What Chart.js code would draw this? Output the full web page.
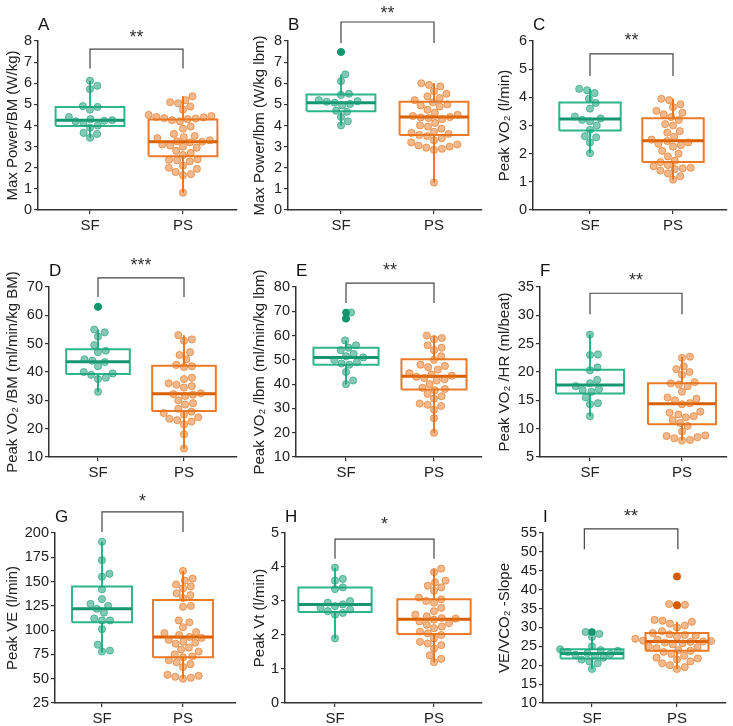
<!DOCTYPE html>
<html><head><meta charset="utf-8">
<script src="https://cdn.jsdelivr.net/npm/chart.js@4/dist/chart.umd.min.js"></script>
<style>
html,body{margin:0;padding:0;background:#fff;}
#wrap{position:relative;width:733px;height:726px;overflow:hidden;background:#fff;}
#wrap canvas{position:absolute;}
</style></head><body><div id="wrap"></div>
<script>
// ---------- DATA ----------
const groups = ["SF", "PS"];
const panelLetters = ["A","B","C","D","E","F","G","H","I"];
const yTitles = ["Max Power/BM (W/kg)", "Max Power/lbm (W/kg lbm)", "Peak VO\u2082 (l/min)",
  "Peak VO\u2082 /BM (ml/min/kg BM)", "Peak VO\u2082 /lbm (ml/min/kg lbm)", "Peak VO\u2082 /HR (ml/beat)",
  "Peak VE (l/min)", "Peak Vt (l/min)", "VE/VCO\u2082 -Slope"];
const yMins  = [0, 0, 0, 10, 10, 5, 25, 0, 10];
const yMaxs  = [8, 8, 6, 70, 80, 35, 200, 5, 55];
const ySteps = [1, 1, 1, 10, 10, 5, 25, 1, 5];
const stars  = ["**", "**", "**", "***", "**", "**", "*", "*", "**"];
const bracketTop = [7.62, 8.9, 5.54, 73.2, 81.6, 33.9, 221.7, 4.82, 56.1];
const bracketLeg = [6.7, 7.9, 4.76, 66.5, 73.4, 30.2, 201, 4.24, 50.7];
const bracketX1 = [1, 1, 1, 1, 1, 1, 1, 1, 0.91];
const bracketX2 = [2, 2, 2, 2, 2, 2, 2, 2, 2.01];

// box stats: [lower whisker, Q1, median, Q3, upper whisker]
const sfA = [6.12, 5.88, 5.72, 4.92, 4.88, 4.75, 4.4, 4.3, 4.25, 4.22, 4.2, 4.12, 4.0, 3.9, 3.65, 3.6, 3.42];
const psA = [5.38, 5.2, 5.1, 5.05, 4.9, 4.75, 4.5, 4.45, 4.4, 4.38, 4.35, 4.33, 4.3, 4.25, 4.2, 3.95, 3.85, 3.6, 3.5, 3.45, 3.4, 3.3, 3.25, 3.23, 3.2, 3.1, 3.05, 3.0, 2.95, 2.8, 2.7, 2.6, 2.4, 2.38, 2.35, 2.3, 2.1, 2.0, 1.95, 1.8, 1.7, 1.65, 0.82];
const boxSfA = [3.42, 3.98, 4.25, 4.88, 6.12];
const boxPsA = [0.82, 2.55, 3.23, 4.28, 5.38];
const outSfA = [];
const outPsA = [];

const sfB = [7.48, 6.42, 6.1, 5.5, 5.45, 5.2, 5.15, 5.12, 5.08, 5.02, 4.95, 4.7, 4.65, 4.4, 4.2, 4.0];
const psB = [6.0, 5.92, 5.85, 5.62, 5.5, 5.38, 5.3, 5.2, 5.1, 5.0, 4.95, 4.9, 4.75, 4.6, 4.5, 4.45, 4.4, 4.38, 4.35, 4.3, 4.12, 4.0, 3.95, 3.85, 3.7, 3.65, 3.6, 3.55, 3.5, 3.4, 3.3, 3.2, 3.1, 3.05, 3.0, 2.95, 2.9, 2.85, 1.3];
const boxSfB = [4.0, 4.68, 5.08, 5.47, 6.42];
const boxPsB = [1.3, 3.55, 4.4, 5.12, 6.0];
const outSfB = [7.48];
const outPsB = [];

const sfC = [4.3, 4.25, 4.15, 3.95, 3.8, 3.6, 3.32, 3.25, 3.2, 3.15, 3.0, 2.85, 2.62, 2.58, 2.4, 2.02];
const psC = [3.95, 3.9, 3.75, 3.65, 3.52, 3.45, 3.4, 3.3, 3.2, 3.05, 3.0, 2.8, 2.75, 2.6, 2.5, 2.45, 2.4, 2.35, 2.3, 2.25, 2.1, 2.0, 1.9, 1.75, 1.7, 1.6, 1.55, 1.5, 1.48, 1.45, 1.4, 1.3, 1.2, 1.08];
const boxSfC = [2.02, 2.82, 3.23, 3.82, 4.3];
const boxPsC = [1.08, 1.7, 2.46, 3.26, 3.95];
const outSfC = [];
const outPsC = [];

const sfD = [63, 55, 54, 52.5, 49.5, 47.5, 47, 44.5, 44, 43.5, 42, 40, 39.5, 39, 38, 37.5, 33];
const psD = [53, 51.5, 51, 47, 46, 44.5, 42.5, 42, 41.8, 38, 37.5, 36, 35.5, 35, 34.5, 32.5, 32.2, 32, 31.5, 30, 29, 28.5, 27, 26, 25.5, 25, 24, 23.5, 23, 22.5, 21.5, 18, 13];
const boxSfD = [33, 39.3, 43.6, 48, 55];
const boxPsD = [13, 26.2, 32.3, 42.2, 53];
const outSfD = [63];
const outPsD = [];

const sfE = [69.5, 67, 58, 56, 55, 54, 52.5, 51.5, 51, 50, 49, 48.5, 48, 45, 41.5, 40];
const psE = [60, 59, 58.5, 56, 55, 54, 51.5, 50, 48, 47.5, 47, 46, 44.5, 44, 43.5, 43, 42.5, 42, 41.5, 40, 38.5, 38, 37.5, 36, 35, 34, 32, 31.5, 31, 29.5, 26, 20];
const boxSfE = [40, 48, 51, 55, 58];
const boxPsE = [20, 37.8, 43.2, 50.2, 60];
const outSfE = [69.5, 67];
const outPsE = [];

const sfF = [26.6, 23.1, 23.0, 20.8, 20.3, 18.6, 18.0, 17.5, 17.0, 16.8, 16.5, 15.5, 14.5, 14.3, 12.2];
const psF = [22.7, 22.5, 21.0, 20.5, 20.0, 19.5, 18.2, 18.0, 17.8, 17.5, 16.5, 15.5, 15.3, 15.0, 14.5, 14.3, 13.0, 12.8, 12.5, 12.2, 12.0, 11.5, 11.0, 10.5, 9.5, 8.8, 8.7, 8.5, 8.3, 8.0, 7.9];
const boxSfF = [12.2, 16.2, 17.7, 20.4, 26.6];
const boxPsF = [7.9, 10.8, 14.4, 18.0, 22.7];
const outSfF = [];
const outPsF = [];

const sfG = [191, 172, 158, 155, 142, 132, 127, 125, 122, 118, 112, 110, 110, 101, 85, 79, 78];
const psG = [161, 153, 151, 147, 145, 143, 138, 136, 133, 125, 124, 110, 108, 103, 98, 97, 95, 93, 92, 90, 88, 87, 86, 82, 80, 78, 75, 73, 72, 69, 67, 65, 62, 54, 53, 52, 51, 50];
const boxSfG = [77, 108, 122, 145, 191];
const boxPsG = [50, 72, 93, 131, 161];
const outSfG = [];
const outPsG = [];

const sfH = [3.98, 3.65, 3.6, 3.4, 3.35, 3.0, 2.95, 2.9, 2.85, 2.8, 2.75, 2.7, 2.65, 2.6, 1.9];
const psH = [3.95, 3.85, 3.6, 3.55, 3.45, 3.4, 3.3, 3.1, 3.05, 3.0, 2.95, 2.8, 2.7, 2.6, 2.55, 2.5, 2.48, 2.45, 2.4, 2.35, 2.3, 2.25, 2.2, 2.1, 2.05, 2.0, 1.9, 1.8, 1.75, 1.7, 1.6, 1.4, 1.3, 1.2];
const boxSfH = [1.9, 2.68, 2.9, 3.4, 3.98];
const boxPsH = [1.2, 2.03, 2.46, 3.05, 3.95];
const outSfH = [];
const outPsH = [];

const sfI = [28.8, 28.3, 27.5, 25, 24.2, 24, 23.8, 23.5, 23.2, 23, 22.8, 22.5, 22, 21.5, 21, 20.5, 19];
const psI = [43.5, 36.2, 36, 35.8, 32, 31.8, 31.5, 31, 30.5, 30, 29, 28.5, 28.2, 28, 27.8, 27.5, 27, 26.8, 26.5, 26.4, 26.3, 26.2, 26, 25.8, 25.5, 25, 24.8, 24.5, 24, 23.8, 23.5, 23, 22.5, 22, 21.8, 21.5, 21, 20.5, 20, 19.5, 19];
const boxSfI = [19, 21.8, 23.1, 24.2, 27.5];
const boxPsI = [19, 23.8, 26.3, 28.5, 31.5];
const outSfI = [28.8];
const outPsI = [43.5, 35.9];

const sfAll = [sfA, sfB, sfC, sfD, sfE, sfF, sfG, sfH, sfI];
const psAll = [psA, psB, psC, psD, psE, psF, psG, psH, psI];
const boxSfAll = [boxSfA, boxSfB, boxSfC, boxSfD, boxSfE, boxSfF, boxSfG, boxSfH, boxSfI];
const boxPsAll = [boxPsA, boxPsB, boxPsC, boxPsD, boxPsE, boxPsF, boxPsG, boxPsH, boxPsI];
const outSfAll = [outSfA, outSfB, outSfC, outSfD, outSfE, outSfF, outSfG, outSfH, outSfI];
const outPsAll = [outPsA, outPsB, outPsC, outPsD, outPsE, outPsF, outPsG, outPsH, outPsI];

// ---------- LAYOUT (pixels) ----------
const layout = [
  {cx:0,   cy:0,   cw:245, ch:240, l:38,  r:237, t:41,  b:210, sf:90,  ps:183, sdy:-16.5},
  {cx:247, cy:0,   cw:243, ch:240, l:288, r:482, t:41,  b:210, sf:341, ps:434, sdy:-13},
  {cx:492, cy:0,   cw:241, ch:240, l:533, r:727, t:41,  b:210, sf:590, ps:673, sdy:-18},
  {cx:0,   cy:240, cw:245, ch:243, l:49,  r:237, t:287, b:457, sf:98,  ps:184, sdy:-17},
  {cx:247, cy:240, cw:243, ch:243, l:296, r:482, t:287, b:457, sf:346, ps:434, sdy:-18},
  {cx:492, cy:240, cw:241, ch:243, l:540, r:727, t:287, b:457, sf:590, ps:682, sdy:-18},
  {cx:0,   cy:484, cw:245, ch:242, l:55,  r:236, t:533, b:703, sf:102, ps:183, sdy:-15},
  {cx:247, cy:484, cw:243, ch:242, l:285, r:482, t:533, b:703, sf:335, ps:434, sdy:-20},
  {cx:492, cy:484, cw:241, ch:242, l:543, r:726, t:533, b:703, sf:592, ps:677, sdy:-17}
];

const FONT = "'Liberation Sans', Arial, Helvetica, sans-serif";
Chart.defaults.font.family = FONT;
Chart.defaults.color = '#222';

const colors = [
  {pt:'rgba(27,158,119,0.55)', ptb:'rgba(27,158,119,0.75)', box:'rgb(45,182,138)', med:'rgb(22,150,110)', out:'rgb(20,150,108)'},
  {pt:'rgba(232,115,25,0.5)', ptb:'rgba(228,110,20,0.72)', box:'rgb(236,122,40)', med:'rgb(217,95,2)', out:'rgb(217,90,0)'}
];
const HALF = 0.37;
const DIAM = 8;

function swarm(values, pxY, pxX, center) {
  const sorted = values.slice().sort((a, b) => a - b);
  const placed = [], out = [];
  for (const v of sorted) {
    const y = v * pxY;
    const near = placed.filter(p => Math.abs(p.y - y) < DIAM);
    const cands = [0];
    near.forEach(p => { const dx = Math.sqrt(DIAM * DIAM - (p.y - y) ** 2); cands.push(p.x + dx, p.x - dx); });
    cands.sort((a, b) => Math.abs(a) - Math.abs(b) || b - a);
    let cx = 0;
    for (const c of cands) {
      if (near.every(p => (c - p.x) ** 2 + (p.y - y) ** 2 >= DIAM * DIAM - 1e-6)) { cx = c; break; }
    }
    placed.push({x: cx, y});
    out.push({x: center + cx / pxX, y: v});
  }
  return out;
}

const annot = {
  id: 'annot',
  afterDraw(chart, args, o) {
    const {ctx, chartArea, scales: {x, y}} = chart;
    const x1 = x.getPixelForValue(o.bx1), x2 = x.getPixelForValue(o.bx2);
    const yt = y.getPixelForValue(o.top), yl = y.getPixelForValue(o.leg);
    ctx.save();
    ctx.strokeStyle = '#444'; ctx.lineWidth = 1.2;
    ctx.beginPath(); ctx.moveTo(x1, yl); ctx.lineTo(x1, yt); ctx.lineTo(x2, yt); ctx.lineTo(x2, yl); ctx.stroke();
    ctx.fillStyle = '#333';
    ctx.font = '18px ' + FONT; ctx.textAlign = 'center'; ctx.textBaseline = 'alphabetic';
    ctx.fillText(o.stars, (x1 + x2) / 2, yt + o.sdy + 10.4);
    ctx.fillStyle = '#111';
    ctx.font = '17px ' + FONT; ctx.textAlign = 'left'; ctx.textBaseline = 'middle';
    ctx.fillText(o.letter, chartArea.left, chartArea.top - 16);
    ctx.restore();
  }
};

const wrap = document.getElementById('wrap');
layout.forEach((L, i) => {
  const cv = document.createElement('canvas');
  cv.width = L.cw; cv.height = L.ch;
  cv.style.left = L.cx + 'px'; cv.style.top = L.cy + 'px';
  wrap.appendChild(cv);
  const unit = L.ps - L.sf;
  const xMin = 1 - (L.sf - L.l) / unit;
  const xMax = 2 + (L.r - L.ps) / unit;
  const pxY = (L.b - L.t) / (yMaxs[i] - yMins[i]);
  const datasets = [];
  const vals = [sfAll[i], psAll[i]], boxes = [boxSfAll[i], boxPsAll[i]], outs = [outSfAll[i], outPsAll[i]];
  for (let g = 0; g < 2; g++) {
    const c = colors[g], cx = g + 1, bx = boxes[g];
    datasets.push({data: outs[g].map(v => ({x: cx, y: v})), pointRadius: 3.8, backgroundColor: c.out, borderColor: c.out, borderWidth: 0, order: 0});
    datasets.push({data: swarm(vals[g], pxY, unit, cx), pointRadius: 3.6, backgroundColor: c.pt, borderColor: c.ptb, borderWidth: 0.8, order: 1});
    datasets.push({data: [{x: cx - HALF, y: bx[2]}, {x: cx + HALF, y: bx[2]}], showLine: true, pointRadius: 0, borderColor: c.med, borderWidth: 3, order: 2});
    datasets.push({data: [{x: cx - HALF, y: bx[1]}, {x: cx + HALF, y: bx[1]}, {x: cx + HALF, y: bx[3]}, {x: cx - HALF, y: bx[3]}, {x: cx - HALF, y: bx[1]}],
      showLine: true, pointRadius: 0, borderColor: c.box, borderWidth: 2, order: 3});
    datasets.push({data: [{x: cx, y: bx[0]}, {x: cx, y: bx[1]}], showLine: true, pointRadius: 0, borderColor: c.box, borderWidth: 2, order: 3});
    datasets.push({data: [{x: cx, y: bx[3]}, {x: cx, y: bx[4]}], showLine: true, pointRadius: 0, borderColor: c.box, borderWidth: 2, order: 3});
  }
  new Chart(cv, {
    type: 'scatter',
    data: {datasets},
    plugins: [annot],
    options: {
      responsive: false, animation: false, devicePixelRatio: 1, events: [],
      layout: {padding: {left: 0, top: L.t - L.cy, right: (L.cx + L.cw) - L.r, bottom: 0}},
      plugins: {
        legend: {display: false}, tooltip: {enabled: false},
        annot: {bx1: bracketX1[i], bx2: bracketX2[i], top: bracketTop[i], leg: bracketLeg[i], stars: stars[i], letter: panelLetters[i], sdy: L.sdy}
      },
      scales: {
        x: {
          type: 'linear', min: xMin, max: xMax,
          afterBuildTicks: s => { s.ticks = [{value: 1}, {value: 2}]; },
          afterFit: s => { s.height = L.cy + L.ch - L.b; },
          ticks: {autoSkip: false, padding: 3, font: {size: 15}, color: '#222', callback: v => groups[Math.round(v) - 1]},
          grid: {display: true, drawOnChartArea: false, drawTicks: true, tickLength: 4, color: '#333', lineWidth: 1.2},
          border: {display: true, color: '#333', width: 1.5}
        },
        y: {
          min: yMins[i], max: yMaxs[i],
          afterFit: s => { s.width = L.l - L.cx; },
          ticks: {stepSize: ySteps[i], autoSkip: false, padding: 2, font: {size: 14.5}, color: '#222'},
          grid: {display: true, drawOnChartArea: false, drawTicks: true, tickLength: 4, color: '#333', lineWidth: 1.2},
          border: {display: true, color: '#333', width: 1.5},
          title: {display: true, text: yTitles[i], font: {size: 15}, color: '#222', padding: {top: 4, bottom: 2}}
        }
      }
    }
  });
});
</script>
</body></html>
